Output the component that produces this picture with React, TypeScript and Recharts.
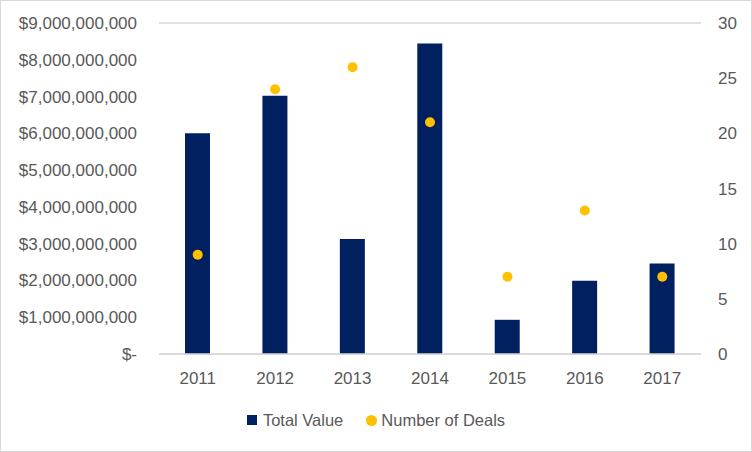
import { ComposedChart, Bar, Line, XAxis, YAxis, CartesianGrid, Legend } from "recharts";

const years = ["2011", "2012", "2013", "2014", "2015", "2016", "2017"];
const totalValue = [6.0e9, 7.02e9, 3.13e9, 8.44e9, 0.93e9, 1.99e9, 2.46e9];
const numberOfDeals = [9, 24, 26, 21, 7, 13, 7];

const valueTicks = [0, 1e9, 2e9, 3e9, 4e9, 5e9, 6e9, 7e9, 8e9, 9e9];
const dealTicks = [0, 5, 10, 15, 20, 25, 30];

const data = years.map((year, i) => ({
    year,
    value: totalValue[i],
    deals: numberOfDeals[i],
}));

const FONT = "'Liberation Sans', Arial, sans-serif";
const TEXT = "#595959";
const BLUE = "#002060";
const GOLD = "#FFC000";

const formatMoney = (v: number) => (v === 0 ? "$-" : "$" + v.toLocaleString("en-US"));

const renderLegend = () => (
    <div
        style={{
            height: 68,
            display: "flex",
            justifyContent: "center",
            alignItems: "center",
            paddingTop: 4,
            boxSizing: "border-box",
            fontFamily: FONT,
            fontSize: 16.5,
            color: TEXT,
        }}
    >
        <span style={{ display: "inline-block", width: 10, height: 10, background: BLUE, marginRight: 6 }} />
        <span style={{ marginRight: 23 }}>Total Value</span>
        <span
            style={{ display: "inline-block", width: 11, height: 11, borderRadius: 6, background: GOLD, marginRight: 4 }}
        />
        <span>Number of Deals</span>
    </div>
);

const App = () => {
    return (
        <div style={{ position: "absolute", left: 0, top: 0, width: 752, height: 452, background: "#fff" }}>
            <ComposedChart
                width={752}
                height={452}
                data={data}
                margin={{ top: 23, right: 0, bottom: 0, left: 0 }}
            >
                <CartesianGrid vertical={false} stroke="#d9d9d9" strokeWidth={1.5} />
                <XAxis
                    dataKey="year"
                    height={30}
                    axisLine={{ stroke: "#d9d9d9", strokeWidth: 1.5 }}
                    tickLine={false}
                    tickMargin={12}
                    tick={{ fill: TEXT, fontSize: 17, fontFamily: FONT }}
                />
                <YAxis
                    yAxisId="left"
                    width={159}
                    domain={[0, 9e9]}
                    ticks={valueTicks}
                    interval={0}
                    axisLine={false}
                    tickLine={false}
                    tickMargin={16}
                    tickFormatter={formatMoney}
                    tick={{ fill: TEXT, fontSize: 17, fontFamily: FONT }}
                />
                <YAxis
                    yAxisId="right"
                    orientation="right"
                    width={51}
                    domain={[0, 30]}
                    ticks={dealTicks}
                    interval={0}
                    axisLine={false}
                    tickLine={false}
                    tickMargin={11}
                    tick={{ fill: TEXT, fontSize: 17, fontFamily: FONT }}
                />
                <Bar yAxisId="left" dataKey="value" fill={BLUE} barSize={25} isAnimationActive={false} />
                <Line
                    yAxisId="right"
                    dataKey="deals"
                    stroke="none"
                    strokeWidth={0}
                    dot={{ r: 5, fill: GOLD, stroke: "none" }}
                    activeDot={false}
                    isAnimationActive={false}
                />
                <Legend verticalAlign="bottom" content={renderLegend} />
            </ComposedChart>
            <div
                style={{
                    position: "absolute",
                    inset: 0,
                    border: "1px solid #d9d9d9",
                    pointerEvents: "none",
                }}
            />
        </div>
    );
};

export default App;
